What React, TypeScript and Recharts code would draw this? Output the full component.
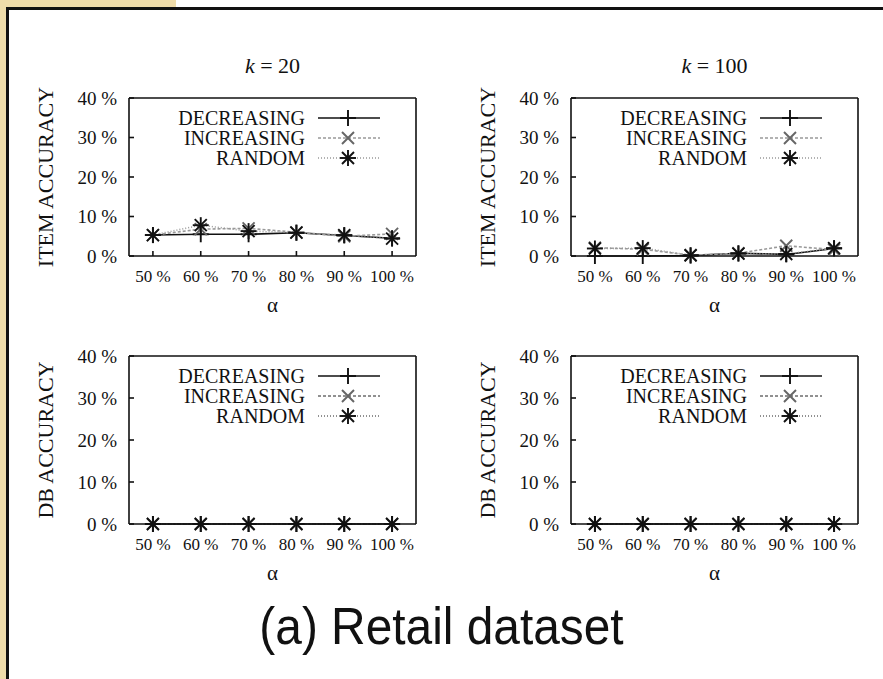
import { LineChart, Line, XAxis, YAxis, Legend } from "recharts";

// alpha values on the x axis (percent)
const alphas = [50, 60, 70, 80, 90, 100];
const accuracyTicks = [0, 10, 20, 30, 40];
const seriesNames = ["DECREASING", "INCREASING", "RANDOM"];

// item accuracy, k = 20
const itemK20Decreasing = [5.3, 5.5, 5.5, 5.9, 5.2, 4.5];
const itemK20Increasing = [5.3, 6.8, 7.0, 6.0, 5.0, 5.6];
const itemK20Random = [5.3, 7.8, 6.3, 5.9, 5.3, 4.4];

// item accuracy, k = 100
const itemK100Decreasing = [0.0, 0.0, 0.1, 0.7, 0.4, 1.9];
const itemK100Increasing = [2.1, 1.7, 0.2, 0.7, 2.6, 1.6];
const itemK100Random = [1.9, 2.0, 0.2, 0.6, 0.5, 2.0];

// db accuracy, k = 20 and k = 100
const dbK20Decreasing = [0, 0, 0, 0, 0, 0];
const dbK20Increasing = [0, 0, 0, 0, 0, 0];
const dbK20Random = [0, 0, 0, 0, 0, 0];
const dbK100Decreasing = [0, 0, 0, 0, 0, 0];
const dbK100Increasing = [0, 0, 0, 0, 0, 0];
const dbK100Random = [0, 0, 0, 0, 0, 0];

type MarkerKind = "plus" | "cross" | "star";
type SeriesStyle = { stroke: string; dash?: string; width: number; marker: MarkerKind; markerColor: string };

const topStyles: SeriesStyle[] = [
  { stroke: "#111", width: 1.6, marker: "plus", markerColor: "#111" },
  { stroke: "#999", dash: "3 2", width: 1.6, marker: "cross", markerColor: "#666" },
  { stroke: "#999", dash: "1 2", width: 1.6, marker: "star", markerColor: "#111" },
];

const bottomStyles: SeriesStyle[] = [
  { stroke: "#111", width: 1.6, marker: "plus", markerColor: "#111" },
  { stroke: "#222", dash: "3 2", width: 1, marker: "cross", markerColor: "#666" },
  { stroke: "#222", dash: "1 2", width: 1, marker: "star", markerColor: "#111" },
];

const SERIF = "'Liberation Serif', 'DejaVu Serif', serif";
const PLOT_W = 287;
const Y_AXIS_W = 129;
const TOP_GAP = 58;

function Marker({ kind, cx, cy, color }: { kind: MarkerKind; cx: number; cy: number; color: string }) {
  const r = 8;
  const d = 6;
  const s = { stroke: color, strokeWidth: 1.9 };
  const plus = (
    <>
      <line x1={cx - r} y1={cy} x2={cx + r} y2={cy} {...s} />
      <line x1={cx} y1={cy - r} x2={cx} y2={cy + r} {...s} />
    </>
  );
  const cross = (
    <>
      <line x1={cx - d} y1={cy - d} x2={cx + d} y2={cy + d} {...s} />
      <line x1={cx - d} y1={cy + d} x2={cx + d} y2={cy - d} {...s} />
    </>
  );
  if (kind === "plus") return <g>{plus}</g>;
  if (kind === "cross") return <g>{cross}</g>;
  return (
    <g>
      {plus}
      {cross}
    </g>
  );
}

function LegendBox({ styles }: { styles: SeriesStyle[] }) {
  const textRight = Y_AXIS_W + 176;
  return (
    <svg width={440} height={80} style={{ display: "block" }}>
      {seriesNames.map((name, i) => {
        const y = 20 + i * 20;
        const st = styles[i];
        return (
          <g key={name}>
            <text x={textRight} y={y} dy="0.35em" textAnchor="end" fontFamily={SERIF} fontSize={20} fill="#111">
              {name}
            </text>
            <line
              x1={Y_AXIS_W + 189}
              x2={Y_AXIS_W + 251}
              y1={y}
              y2={y}
              stroke={st.stroke}
              strokeWidth={st.width}
              strokeDasharray={st.dash}
            />
            <Marker kind={st.marker} cx={Y_AXIS_W + 219} cy={y} color={st.markerColor} />
          </g>
        );
      })}
    </svg>
  );
}

type PanelProps = {
  boxLeft: number;
  boxTop: number;
  boxHeight: number;
  title?: string;
  yLabel: string;
  series: number[][];
  styles: SeriesStyle[];
};

function Panel({ boxLeft, boxTop, boxHeight, title, yLabel, series, styles }: PanelProps) {
  const chartW = 440;
  const chartH = TOP_GAP + boxHeight + 62;
  const rows = alphas.map((a, i) => ({
    alpha: a,
    s0: series[0][i],
    s1: series[1][i],
    s2: series[2][i],
  }));
  const axisStyle = { stroke: "#111", strokeWidth: 1.6 };

  return (
    <>
      {title && (
        <div
          style={{
            position: "absolute",
            left: boxLeft,
            width: PLOT_W,
            top: boxTop - 45,
            textAlign: "center",
            fontFamily: SERIF,
            fontSize: 22,
            lineHeight: "26px",
            color: "#111",
          }}
        >
          <i>k</i> = {title}
        </div>
      )}
      <div style={{ position: "absolute", left: boxLeft - Y_AXIS_W, top: boxTop - TOP_GAP }}>
        <LineChart
          width={chartW}
          height={chartH}
          data={rows}
          margin={{ top: TOP_GAP - 1, right: chartW - Y_AXIS_W - PLOT_W - 1, bottom: 2, left: 0 }}
        >
          <XAxis
            dataKey="alpha"
            type="number"
            domain={[45, 105]}
            ticks={alphas}
            interval={0}
            height={60}
            tickFormatter={(v) => `${v} %`}
            tickSize={-5}
            tickMargin={19}
            axisLine={axisStyle}
            tickLine={axisStyle}
            tick={{ fontFamily: SERIF, fontSize: 17, fill: "#111" }}
            label={{ value: "α", position: "insideBottom", offset: 4, fontFamily: SERIF, fontSize: 21, fill: "#111" }}
          />
          {/* mirrored top border with inward ticks */}
          <XAxis
            xAxisId="top"
            orientation="top"
            dataKey="alpha"
            type="number"
            domain={[45, 105]}
            ticks={alphas}
            interval={0}
            height={1}
            tick={false}
            tickSize={-5}
            axisLine={axisStyle}
            tickLine={axisStyle}
          />
          <YAxis
            type="number"
            domain={[0, 40]}
            ticks={accuracyTicks}
            interval={0}
            width={Y_AXIS_W}
            tickFormatter={(v) => `${v} %`}
            tickSize={-5}
            tickMargin={17}
            axisLine={axisStyle}
            tickLine={axisStyle}
            tick={{ fontFamily: SERIF, fontSize: 19, fill: "#111" }}
            label={{
              value: yLabel,
              angle: -90,
              position: "insideLeft",
              offset: 45,
              style: { textAnchor: "middle", fontFamily: SERIF, fontSize: 22, fill: "#111" },
            }}
          />
          {/* mirrored right border with inward ticks */}
          <YAxis
            yAxisId="right"
            orientation="right"
            type="number"
            domain={[0, 40]}
            ticks={accuracyTicks}
            interval={0}
            width={1}
            tick={false}
            tickSize={-5}
            axisLine={axisStyle}
            tickLine={axisStyle}
          />
          <Legend
            layout="vertical"
            align="center"
            verticalAlign="middle"
            wrapperStyle={{ left: 0, top: TOP_GAP, width: 440, height: 80 }}
            content={() => <LegendBox styles={styles} />}
          />
          {styles.map((st, i) => (
            <Line
              key={seriesNames[i]}
              dataKey={`s${i}`}
              name={seriesNames[i]}
              type="linear"
              stroke={st.stroke}
              strokeWidth={st.width}
              strokeDasharray={st.dash}
              isAnimationActive={false}
              activeDot={false}
              dot={(p: any) => (
                <Marker key={`${i}-${p.index}`} kind={st.marker} cx={p.cx} cy={p.cy} color={st.markerColor} />
              )}
            />
          ))}
        </LineChart>
      </div>
    </>
  );
}

export default function App() {
  return (
    <div
      style={{
        position: "absolute",
        left: 0,
        top: 0,
        width: 883,
        height: 679,
        background: "#fff",
        overflow: "hidden",
      }}
    >
      {/* page edge and frame */}
      <div style={{ position: "absolute", left: 0, top: 0, width: 7, height: 679, background: "#efdcaa" }} />
      <div style={{ position: "absolute", left: 0, top: 0, width: 176, height: 7, background: "#efdcaa" }} />
      <div style={{ position: "absolute", left: 7, top: 7, width: 876, height: 3, background: "#111" }} />
      <div style={{ position: "absolute", left: 6, top: 7, width: 3, height: 672, background: "#111" }} />

      <Panel
        boxLeft={129}
        boxTop={98}
        boxHeight={158}
        title="20"
        yLabel="ITEM ACCURACY"
        series={[itemK20Decreasing, itemK20Increasing, itemK20Random]}
        styles={topStyles}
      />
      <Panel
        boxLeft={571}
        boxTop={98}
        boxHeight={158}
        title="100"
        yLabel="ITEM ACCURACY"
        series={[itemK100Decreasing, itemK100Increasing, itemK100Random]}
        styles={topStyles}
      />
      <Panel
        boxLeft={129}
        boxTop={356}
        boxHeight={168}
        yLabel="DB ACCURACY"
        series={[dbK20Decreasing, dbK20Increasing, dbK20Random]}
        styles={bottomStyles}
      />
      <Panel
        boxLeft={571}
        boxTop={356}
        boxHeight={168}
        yLabel="DB ACCURACY"
        series={[dbK100Decreasing, dbK100Increasing, dbK100Random]}
        styles={bottomStyles}
      />

      <div
        style={{
          position: "absolute",
          left: 0,
          width: 883,
          top: 596,
          textAlign: "center",
          fontFamily: "'Liberation Sans', Arial, sans-serif",
          fontSize: 52,
          lineHeight: "60px",
          color: "#111",
          transform: "scaleX(0.92)",
        }}
      >
        (a) Retail dataset
      </div>
    </div>
  );
}
